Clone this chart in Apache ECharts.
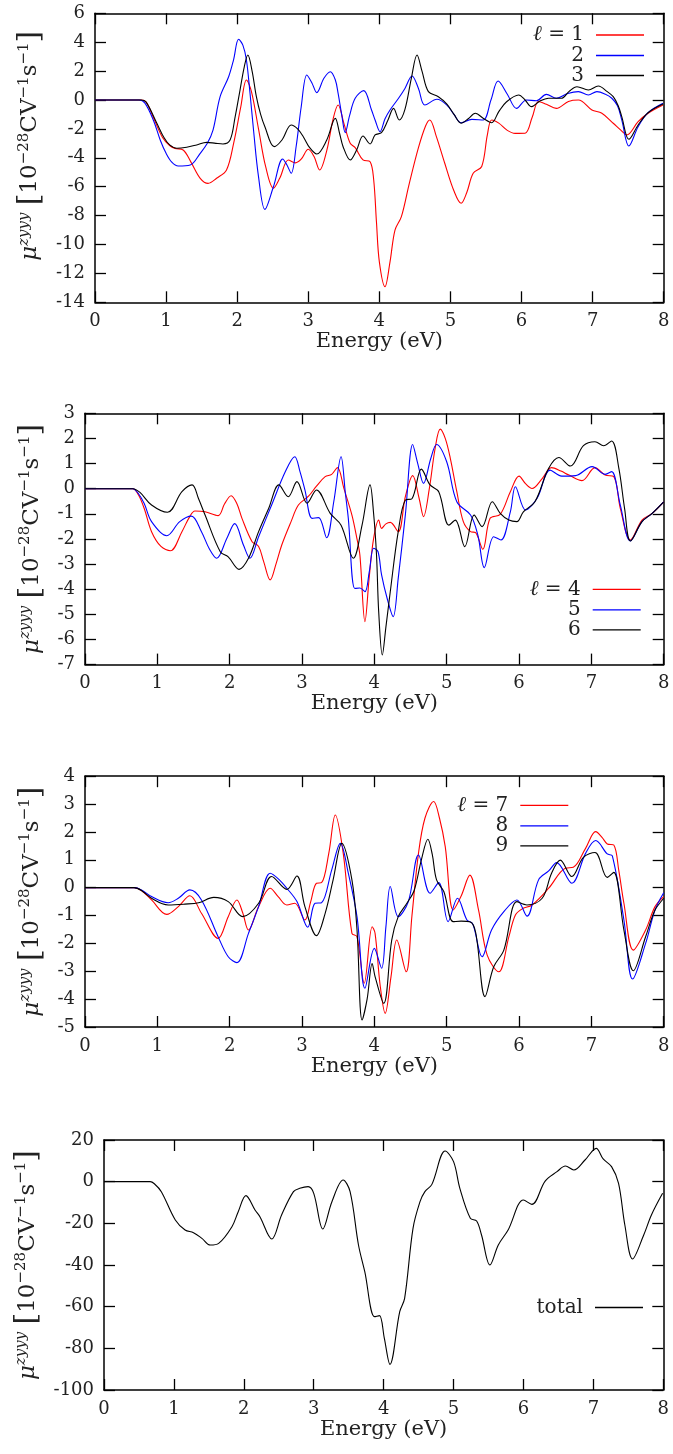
<!DOCTYPE html>
<html><head><meta charset="utf-8">
<script src="https://cdn.jsdelivr.net/npm/echarts@6/dist/echarts.min.js"></script>
<style>html,body{margin:0;padding:0;background:#fff}#c{width:673px;height:1454px}</style>
</head><body><div id="c"></div>
<script>
// ---------- data (energy in eV, value in 10^-28 C V^-1 s^-1) ----------
const l1 = [[0,0],[0.4,0],[0.65,0],[0.72,-0.15],[0.82,-1.2],[0.95,-2.6],[1.05,-3.15],[1.125,-3.35],[1.24,-3.46],[1.35,-4.3],[1.48,-5.42],[1.59,-5.77],[1.71,-5.42],[1.85,-4.84],[1.95,-3.0],[2.05,-0.5],[2.13,1.38],[2.2,0.6],[2.3,-2.0],[2.4,-4.6],[2.51,-6.11],[2.6,-5.4],[2.72,-4.15],[2.82,-4.35],[2.9,-4.1],[3.0,-3.41],[3.08,-3.9],[3.16,-4.84],[3.26,-3.5],[3.35,-1.3],[3.42,-0.35],[3.5,-1.6],[3.59,-3.0],[3.66,-3.3],[3.77,-4.15],[3.87,-4.27],[3.92,-5.5],[3.96,-8.5],[4.0,-11.2],[4.08,-12.92],[4.15,-11.2],[4.22,-9.0],[4.31,-8.07],[4.42,-5.8],[4.55,-3.3],[4.65,-1.8],[4.71,-1.38],[4.8,-2.5],[4.92,-4.38],[5.05,-6.3],[5.15,-7.15],[5.23,-6.4],[5.32,-5.07],[5.44,-4.6],[5.52,-2.4],[5.58,-1.38],[5.68,-1.6],[5.8,-2.1],[5.91,-2.31],[6.05,-2.3],[6.15,-1.2],[6.24,-0.1],[6.35,-0.3],[6.49,-0.58],[6.66,-0.1],[6.8,0.0],[6.99,-0.69],[7.13,-0.92],[7.29,-1.61],[7.4,-2.1],[7.48,-2.42],[7.64,-1.5],[7.78,-0.92],[7.99,-0.35]];
const l2 = [[0,0],[0.4,0],[0.62,0],[0.7,-0.2],[0.82,-1.38],[0.92,-2.8],[1.0,-3.69],[1.08,-4.3],[1.17,-4.57],[1.34,-4.5],[1.48,-3.69],[1.58,-3.0],[1.66,-2.08],[1.76,0.23],[1.88,1.61],[1.95,2.8],[2.02,4.2],[2.08,3.8],[2.13,2.77],[2.18,0.5],[2.23,-2.08],[2.3,-5.3],[2.39,-7.57],[2.51,-6.0],[2.64,-4.08],[2.7,-4.5],[2.76,-5.07],[2.83,-3.2],[2.9,-0.5],[2.98,1.73],[3.05,1.2],[3.12,0.51],[3.22,1.5],[3.31,1.96],[3.38,1.4],[3.42,0.46],[3.47,-1.0],[3.52,-2.26],[3.58,-1.1],[3.66,0.12],[3.78,0.65],[3.89,-0.69],[3.94,-1.38],[4.01,-2.19],[4.08,-1.3],[4.15,-0.69],[4.27,0.12],[4.36,0.8],[4.46,1.66],[4.55,0.8],[4.64,-0.35],[4.81,0.05],[4.95,-0.35],[5.05,-1.0],[5.15,-1.57],[5.3,-1.34],[5.46,-1.38],[5.57,0.0],[5.67,1.31],[5.8,0.4],[5.93,-0.58],[6.07,0],[6.21,-0.05],[6.35,0.39],[6.49,0.12],[6.65,0.45],[6.8,0.58],[6.94,0.35],[7.06,0.58],[7.18,0.4],[7.27,0.12],[7.35,-0.4],[7.41,-1.38],[7.51,-3.18],[7.64,-1.85],[7.78,-0.88],[7.99,-0.23]];
const l3 = [[0,0],[0.4,0],[0.65,0],[0.72,-0.15],[0.87,-1.61],[0.97,-2.6],[1.05,-3.11],[1.15,-3.34],[1.29,-3.27],[1.43,-3.11],[1.57,-2.93],[1.7,-3.0],[1.8,-3.04],[1.9,-2.77],[1.97,-1.2],[2.04,0.69],[2.1,2.3],[2.15,3.11],[2.21,2.0],[2.27,0.23],[2.33,-1.0],[2.39,-1.85],[2.52,-3.23],[2.63,-2.77],[2.76,-1.73],[2.85,-2.0],[2.93,-2.54],[3.02,-3.3],[3.12,-3.74],[3.26,-2.77],[3.38,-1.27],[3.44,-2.3],[3.49,-3.23],[3.59,-4.15],[3.68,-3.46],[3.77,-2.49],[3.87,-3.04],[3.94,-2.42],[4.03,-2.26],[4.12,-1.4],[4.2,-0.58],[4.28,-1.38],[4.36,-0.65],[4.45,1.5],[4.53,3.11],[4.6,2.0],[4.69,0.58],[4.83,0.23],[4.95,-0.28],[5.05,-1.0],[5.15,-1.61],[5.25,-1.3],[5.35,-0.92],[5.47,-1.3],[5.58,-1.57],[5.68,-0.8],[5.79,-0.12],[5.96,0.35],[6.05,0.0],[6.14,-0.46],[6.25,-0.1],[6.38,0.12],[6.56,0.12],[6.67,0.6],[6.78,0.92],[6.94,0.69],[7.08,0.97],[7.2,0.6],[7.29,0.23],[7.36,-0.4],[7.41,-1.15],[7.51,-2.72],[7.64,-1.73],[7.78,-0.88],[7.99,-0.28]];
const l4 = [[0,0],[0.4,0],[0.66,0],[0.74,-0.25],[0.82,-0.8],[0.92,-1.71],[1.05,-2.3],[1.18,-2.47],[1.34,-1.71],[1.45,-1.1],[1.52,-0.89],[1.66,-0.92],[1.84,-1.07],[1.93,-0.6],[2.02,-0.28],[2.1,-0.6],[2.17,-1.18],[2.31,-2.11],[2.4,-2.3],[2.47,-2.9],[2.56,-3.63],[2.64,-3.0],[2.72,-2.24],[2.85,-1.3],[2.95,-0.65],[3.09,-0.3],[3.2,0.1],[3.32,0.48],[3.41,0.57],[3.49,0.84],[3.58,0.0],[3.69,-1.05],[3.76,-2.0],[3.8,-2.64],[3.87,-5.29],[3.93,-3.5],[3.99,-1.98],[4.06,-1.25],[4.1,-1.58],[4.16,-1.4],[4.22,-1.34],[4.33,-1.71],[4.43,-0.3],[4.53,0.52],[4.62,-0.4],[4.68,-1.11],[4.76,0.0],[4.84,1.6],[4.91,2.37],[4.98,2.0],[5.05,1.21],[5.14,-0.12],[5.23,-1.31],[5.33,-1.71],[5.4,-1.75],[5.5,-2.41],[5.6,-1.18],[5.74,-1.02],[5.88,-0.12],[6.0,0.5],[6.09,0.2],[6.18,0.01],[6.32,0.4],[6.45,0.84],[6.58,0.7],[6.69,0.54],[6.87,0.32],[7.05,0.84],[7.19,0.54],[7.31,0.48],[7.4,-0.78],[7.54,-2.04],[7.7,-1.25],[7.84,-0.98],[8.0,-0.52]];
const l5 = [[0,0],[0.4,0],[0.66,0],[0.74,-0.2],[0.82,-0.6],[0.92,-1.31],[1.13,-1.87],[1.31,-1.31],[1.47,-1.09],[1.61,-1.71],[1.72,-2.4],[1.82,-2.77],[1.96,-1.98],[2.07,-1.39],[2.19,-2.24],[2.28,-2.77],[2.4,-1.91],[2.58,-0.65],[2.77,0.68],[2.9,1.27],[2.97,0.7],[3.04,-0.05],[3.14,-1.18],[3.23,-1.15],[3.34,-1.95],[3.44,-0.5],[3.54,1.27],[3.6,-0.2],[3.64,-1.18],[3.73,-3.97],[3.8,-3.95],[3.87,-4.1],[3.93,-3.3],[3.99,-2.37],[4.05,-2.5],[4.1,-3.43],[4.18,-4.4],[4.26,-5.09],[4.33,-3.57],[4.43,-1.0],[4.53,1.76],[4.6,1.0],[4.68,0.21],[4.78,1.2],[4.86,1.76],[5.0,1.07],[5.14,-0.52],[5.33,-1.05],[5.43,-1.84],[5.52,-3.14],[5.65,-1.91],[5.75,-2.04],[5.88,-0.92],[5.95,0.08],[6.09,-0.85],[6.25,-0.38],[6.43,0.74],[6.59,0.5],[6.78,0.52],[7.01,0.88],[7.19,0.57],[7.28,0.68],[7.4,-0.65],[7.54,-2.08],[7.7,-1.31],[7.84,-0.98],[8.0,-0.52]];
const l6 = [[0,0],[0.4,0],[0.66,0],[0.76,-0.15],[0.92,-0.65],[1.14,-0.94],[1.34,-0.12],[1.48,0.15],[1.57,-0.4],[1.66,-1.05],[1.87,-2.51],[1.98,-2.71],[2.13,-3.21],[2.26,-2.77],[2.4,-1.71],[2.54,-0.78],[2.68,0.15],[2.81,-0.32],[2.93,0.28],[3.07,-0.58],[3.2,-0.05],[3.39,-0.98],[3.54,-1.45],[3.71,-2.77],[3.83,-1.45],[3.94,0.15],[3.99,-1.0],[4.03,-2.64],[4.06,-4.89],[4.11,-6.62],[4.16,-5.5],[4.22,-4.1],[4.33,-1.71],[4.43,-0.45],[4.52,-0.4],[4.65,0.78],[4.77,0.15],[4.89,-0.12],[5.03,-1.45],[5.12,-1.25],[5.25,-2.31],[5.38,-1.05],[5.49,-1.51],[5.63,-0.52],[5.74,-0.98],[5.86,-1.25],[5.97,-1.31],[6.06,-0.92],[6.22,-0.52],[6.41,0.81],[6.55,1.24],[6.71,0.9],[6.89,1.71],[7.05,1.87],[7.17,1.71],[7.28,1.9],[7.38,0.81],[7.46,-0.8],[7.54,-2.08],[7.7,-1.31],[7.84,-0.98],[8.0,-0.52]];
const l7 = [[0,0],[0.4,0],[0.68,0],[0.78,-0.1],[0.92,-0.44],[1.13,-0.96],[1.29,-0.68],[1.45,-0.29],[1.61,-0.92],[1.84,-1.82],[1.98,-1.04],[2.1,-0.44],[2.18,-0.9],[2.26,-1.52],[2.4,-0.68],[2.56,-0.02],[2.67,-0.32],[2.79,-0.62],[2.9,-0.56],[3.04,-1.16],[3.12,-0.5],[3.2,0.16],[3.27,0.18],[3.37,1.23],[3.46,2.61],[3.57,1.23],[3.69,-1.64],[3.76,-1.76],[3.86,-3.43],[3.97,-1.4],[4.01,-1.64],[4.08,-3.5],[4.15,-4.51],[4.23,-3.2],[4.31,-1.88],[4.44,-3.02],[4.52,-1.0],[4.61,1.23],[4.7,2.5],[4.82,3.09],[4.9,2.5],[4.98,1.47],[5.09,-0.8],[5.2,-0.3],[5.32,0.45],[5.44,-0.8],[5.56,-2.42],[5.72,-3.02],[5.86,-1.76],[5.95,-0.98],[6.05,-0.75],[6.18,-0.62],[6.41,-0.02],[6.64,0.7],[6.75,0.73],[6.92,1.41],[7.06,2.01],[7.15,1.8],[7.22,1.57],[7.31,1.53],[7.38,0.6],[7.45,-0.56],[7.58,-2.24],[7.75,-1.52],[7.88,-0.68],[8.0,-0.32]];
const l8 = [[0,0],[0.4,0],[0.68,0],[0.78,-0.08],[0.92,-0.32],[1.15,-0.54],[1.29,-0.38],[1.45,-0.08],[1.61,-0.44],[1.84,-1.76],[1.98,-2.48],[2.1,-2.69],[2.26,-1.64],[2.4,-0.68],[2.56,0.52],[2.68,0.3],[2.79,-0.02],[2.93,-0.5],[3.08,-1.42],[3.18,-0.56],[3.27,-0.54],[3.41,0.63],[3.53,1.59],[3.64,0.52],[3.76,-1.04],[3.87,-3.61],[4.0,-2.18],[4.1,-2.89],[4.16,-1.4],[4.22,0.04],[4.33,-1.04],[4.47,-0.5],[4.61,1.17],[4.77,-0.2],[4.89,0.18],[5.02,-1.22],[5.15,-0.38],[5.28,-1.16],[5.36,-1.3],[5.49,-2.48],[5.62,-1.52],[5.79,-0.86],[5.97,-0.44],[6.11,-1.02],[6.27,0.28],[6.41,0.6],[6.52,0.9],[6.73,0.16],[6.92,1.23],[7.06,1.69],[7.22,1.21],[7.29,1.14],[7.45,-1.16],[7.57,-3.28],[7.75,-2.0],[7.88,-0.8],[8.0,-0.18]];
const l9 = [[0,0],[0.4,0],[0.68,0],[0.78,-0.1],[0.92,-0.38],[1.15,-0.62],[1.38,-0.59],[1.57,-0.54],[1.78,-0.35],[1.98,-0.5],[2.18,-1.04],[2.4,-0.56],[2.58,0.4],[2.79,-0.06],[2.93,0.42],[3.04,-0.68],[3.2,-1.72],[3.32,-0.92],[3.43,0.28],[3.55,1.59],[3.69,0.28],[3.76,-1.5],[3.83,-4.75],[3.9,-4.0],[3.97,-2.72],[4.01,-3.19],[4.13,-4.15],[4.24,-1.88],[4.33,-1.04],[4.45,-0.56],[4.55,-0.1],[4.65,1.0],[4.74,1.74],[4.8,1.2],[4.86,0.28],[4.96,-0.14],[5.09,-1.22],[5.2,-1.2],[5.32,-1.22],[5.4,-1.6],[5.53,-3.91],[5.65,-2.84],[5.79,-2.24],[5.97,-0.5],[6.11,-0.62],[6.32,-0.38],[6.45,0.52],[6.57,0.99],[6.73,0.4],[6.89,1.09],[7.05,1.26],[7.22,0.37],[7.31,0.55],[7.45,-1.52],[7.58,-2.98],[7.75,-1.76],[7.88,-0.8],[8.0,-0.38]];
const total = [[0,0],[0.4,0],[0.66,0],[0.72,-1],[0.82,-4.8],[1.02,-18.4],[1.16,-23.2],[1.28,-24.5],[1.4,-27.2],[1.52,-30.4],[1.64,-29.6],[1.83,-21.6],[1.92,-14.4],[2.03,-6.7],[2.16,-13.6],[2.23,-16.8],[2.4,-27.5],[2.54,-16.0],[2.71,-4.8],[2.8,-3.2],[2.92,-2.4],[3.0,-5.6],[3.13,-22.7],[3.26,-9.6],[3.42,0.8],[3.52,-4.8],[3.64,-30.4],[3.73,-43.2],[3.87,-64.8],[3.94,-64.3],[4.01,-75.2],[4.09,-87.7],[4.23,-62.4],[4.3,-56],[4.42,-22.4],[4.52,-9.6],[4.59,-4.8],[4.69,-1.3],[4.88,14.7],[5.0,9.6],[5.09,-3.2],[5.24,-17.6],[5.33,-18.9],[5.4,-25.6],[5.52,-40.0],[5.64,-30.4],[5.78,-23.2],[6.0,-8.8],[6.12,-10.9],[6.31,0.3],[6.48,4.8],[6.6,7.5],[6.72,5.6],[6.88,10.4],[7.04,16.0],[7.14,10.9],[7.26,7.2],[7.36,-0.8],[7.45,-20.8],[7.56,-37.1],[7.72,-25.6],[7.83,-16],[7.99,-5.6]];

const seriesNames = [['ℓ = 1','2','3'],['ℓ = 4','5','6'],['ℓ = 7','8','9'],['total']];
const seriesData = [[l1,l2,l3],[l4,l5,l6],[l7,l8,l9],[total]];
const yRanges = [[-14,6,2],[-7,3,1],[-5,4,1],[-100,20,20]];
const xRange = [0,8,1];
const xName = 'Energy (eV)';

// ---------- styling / layout ----------
const COLORS3 = ['#ff0000','#0000ff','#000000'];
const SERIF = '"DejaVu Serif", serif';
const TXT = '#222';
const layout = [
  {grid:{left:95, top:13.3, width:568.7, height:289}, legend:{right:29, top:24.5}, gap:33.5, shift:24},
  {grid:{left:85, top:413.3, width:578.7, height:251.3}, legend:{right:32.3, top:578.8}, gap:23.5, shift:0},
  {grid:{left:85, top:776.2, width:578.7, height:250.8}, legend:{right:104.7, top:794.8}, gap:23.5, shift:0},
  {grid:{left:104, top:1140, width:559.3, height:250}, legend:{right:30, top:1297.5}, gap:39, shift:0}
];
const yName = '{mu|μ}{supi|zyyy}{sp| }{br|[}{n|10}{sup|−28}{n|CV}{sup|−1}{n|s}{sup|−1}{br|]}';
const rich = {
  mu:{fontFamily:SERIF, fontStyle:'italic', fontSize:23, lineHeight:28, color:TXT},
  supi:{fontFamily:SERIF, fontStyle:'italic', fontSize:15, lineHeight:15, verticalAlign:'top', color:TXT},
  sup:{fontFamily:SERIF, fontSize:15, lineHeight:15, verticalAlign:'top', color:TXT},
  sp:{fontFamily:SERIF, fontSize:23, lineHeight:28, color:TXT},
  br:{fontFamily:SERIF, fontSize:30, lineHeight:28, color:TXT},
  n:{fontFamily:SERIF, fontSize:23, lineHeight:28, color:TXT}
};
const legendRich = {
  i:{fontFamily:SERIF, fontStyle:'italic', fontSize:21, lineHeight:19, color:TXT},
  t:{fontFamily:SERIF, fontSize:20, lineHeight:19, color:TXT}
};
const lineAx = {show:true, onZero:false, lineStyle:{color:'#000', width:1.5}};
const tickAx = {show:true, inside:true, length:11, lineStyle:{color:'#000', width:1.3}};

const grids=[], xAxes=[], yAxes=[], series=[], legends=[];
layout.forEach((L, p) => {
  grids.push(L.grid);
  const [ymin,ymax,yint] = yRanges[p];
  xAxes.push({type:'value', gridIndex:p, min:xRange[0], max:xRange[1], interval:xRange[2], position:'bottom',
    axisLine:lineAx, axisTick:tickAx, splitLine:{show:false},
    axisLabel:{fontFamily:SERIF, fontSize:18, color:TXT, margin:10},
    name:xName, nameLocation:'middle', nameGap:26,
    nameTextStyle:{fontFamily:SERIF, fontSize:21, color:TXT}});
  xAxes.push({type:'value', gridIndex:p, min:xRange[0], max:xRange[1], interval:xRange[2], position:'top',
    axisLine:lineAx, axisTick:tickAx, splitLine:{show:false}, axisLabel:{show:false}});
  yAxes.push({type:'value', gridIndex:p, min:ymin, max:ymax, interval:yint, position:'left',
    axisLine:lineAx, axisTick:tickAx, splitLine:{show:false},
    axisLabel:{fontFamily:SERIF, fontSize:18, color:TXT, margin:10},
    name:yName, nameLocation:'middle', nameGap:L.gap,
    nameTextStyle:{rich:rich, padding:[0,0,0,L.shift]}});
  yAxes.push({type:'value', gridIndex:p, min:ymin, max:ymax, interval:yint, position:'right',
    axisLine:lineAx, axisTick:tickAx, splitLine:{show:false}, axisLabel:{show:false}});
  seriesNames[p].forEach((nm, i) => {
    const col = seriesNames[p].length===1 ? '#000' : COLORS3[i];
    series.push({type:'line', name:nm, xAxisIndex:2*p, yAxisIndex:2*p, data:seriesData[p][i],
      symbol:'none', smooth:0.35, silent:true, animation:false,
      lineStyle:{color:col, width:1.1}, itemStyle:{color:col}});
  });
  legends.push({data:seriesNames[p], orient:'vertical', right:L.legend.right, top:L.legend.top,
    align:'right', icon:'rect', itemWidth:48, itemHeight:1.3, itemGap:0, padding:0, selectedMode:false,
    formatter: nm => nm.charAt(0)==='ℓ' ? '{i|ℓ}{t|' + nm.slice(1) + '}' : '{t|' + nm + '}',
    textStyle:{fontFamily:SERIF, fontSize:20, lineHeight:19, color:TXT, padding:[0,7,0,0], rich:legendRich}});
});

const chart = echarts.init(document.getElementById('c'), null, {renderer:'canvas'});
chart.setOption({animation:false, backgroundColor:'#fff', grid:grids, xAxis:xAxes, yAxis:yAxes, series:series, legend:legends});
</script>
</body></html>
